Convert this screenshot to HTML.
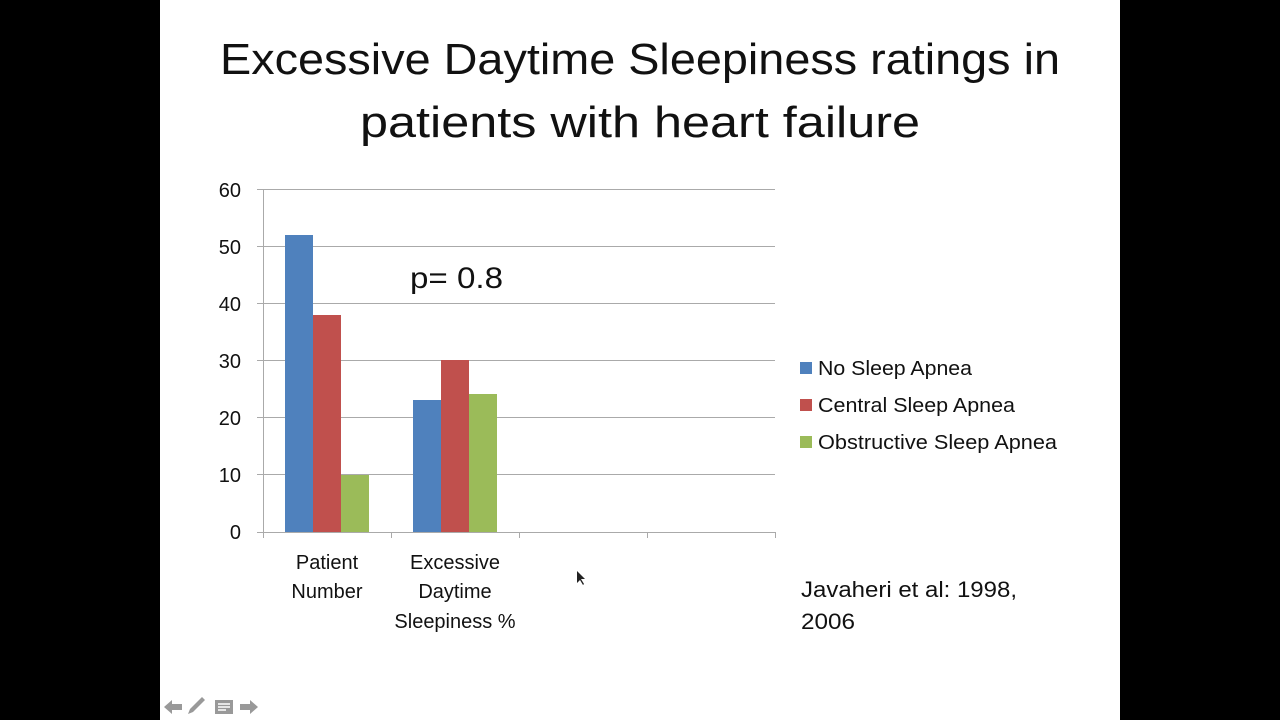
<!DOCTYPE html>
<html><head><style>html,body{margin:0;padding:0;background:#000;}svg{display:block}</style></head>
<body>
<svg width="1280" height="720" xmlns="http://www.w3.org/2000/svg" font-family="Liberation Sans, sans-serif">
<rect width="1280" height="720" fill="#000"/>
<rect x="160" y="0" width="960" height="720" fill="#fff"/>
<text x="640" y="74" font-size="44" text-anchor="middle" fill="#111" textLength="840" lengthAdjust="spacingAndGlyphs">Excessive Daytime Sleepiness ratings in</text>
<text x="640" y="137" font-size="44" text-anchor="middle" fill="#111" textLength="560" lengthAdjust="spacingAndGlyphs">patients with heart failure</text>
<g stroke="#aaa" stroke-width="1">
<line x1="257" y1="189.5" x2="775" y2="189.5"/>
<line x1="257" y1="246.5" x2="775" y2="246.5"/>
<line x1="257" y1="303.5" x2="775" y2="303.5"/>
<line x1="257" y1="360.5" x2="775" y2="360.5"/>
<line x1="257" y1="417.5" x2="775" y2="417.5"/>
<line x1="257" y1="474.5" x2="775" y2="474.5"/>
<line x1="257" y1="532.5" x2="775" y2="532.5"/>
<line x1="263.5" y1="189" x2="263.5" y2="538"/>
<line x1="391.5" y1="532" x2="391.5" y2="538"/>
<line x1="519.5" y1="532" x2="519.5" y2="538"/>
<line x1="647.5" y1="532" x2="647.5" y2="538"/>
<line x1="775.5" y1="532" x2="775.5" y2="538"/>
</g>
<g font-size="20" fill="#111" text-anchor="end">
<text x="241" y="197">60</text><text x="241" y="254">50</text><text x="241" y="311">40</text>
<text x="241" y="368">30</text><text x="241" y="425">20</text><text x="241" y="482">10</text><text x="241" y="539">0</text>
</g>
<rect x="285" y="235" width="28" height="297" fill="#4f81bd"/>
<rect x="313" y="315" width="28" height="217" fill="#c0504d"/>
<rect x="341" y="475" width="28" height="57" fill="#9bbb59"/>
<rect x="413" y="400" width="28" height="132" fill="#4f81bd"/>
<rect x="441" y="360" width="28" height="172" fill="#c0504d"/>
<rect x="469" y="394" width="28" height="138" fill="#9bbb59"/>
<g font-size="20" fill="#111" text-anchor="middle">
<text x="327" y="569">Patient</text><text x="327" y="598">Number</text>
<text x="455" y="569">Excessive</text><text x="455" y="598">Daytime</text><text x="455" y="628">Sleepiness %</text>
</g>
<text x="410" y="288" font-size="30" fill="#111" textLength="93" lengthAdjust="spacingAndGlyphs">p= 0.8</text>
<rect x="800" y="362" width="12" height="12" fill="#4f81bd"/>
<rect x="800" y="399" width="12" height="12" fill="#c0504d"/>
<rect x="800" y="436" width="12" height="12" fill="#9bbb59"/>
<g font-size="20" fill="#111">
<text x="818" y="375" textLength="154" lengthAdjust="spacingAndGlyphs">No Sleep Apnea</text>
<text x="818" y="412" textLength="197" lengthAdjust="spacingAndGlyphs">Central Sleep Apnea</text>
<text x="818" y="449" textLength="239" lengthAdjust="spacingAndGlyphs">Obstructive Sleep Apnea</text>
</g>
<text x="801" y="597" font-size="22" fill="#111" textLength="216" lengthAdjust="spacingAndGlyphs">Javaheri et al: 1998,</text>
<text x="801" y="629" font-size="22" fill="#111" textLength="54" lengthAdjust="spacingAndGlyphs">2006</text>
<g fill="#999">
<polygon points="164,707 172,700 172,704 182,704 182,710 172,710 172,714"/>
<polygon points="188,714 190,709 202,697 205,700 193,712"/>
<rect x="215" y="700" width="18" height="14"/>
<polygon points="258,707 250,700 250,704 240,704 240,710 250,710 250,714"/>
</g>
<g stroke="#fff" stroke-width="1.5"><line x1="218" y1="704" x2="230" y2="704"/><line x1="218" y1="707" x2="230" y2="707"/><line x1="218" y1="710" x2="226" y2="710"/></g>
<polygon points="577,571 577,583 580,580 583,585 584,584 581,579 585,579" fill="#222"/>
</svg>
</body></html>
